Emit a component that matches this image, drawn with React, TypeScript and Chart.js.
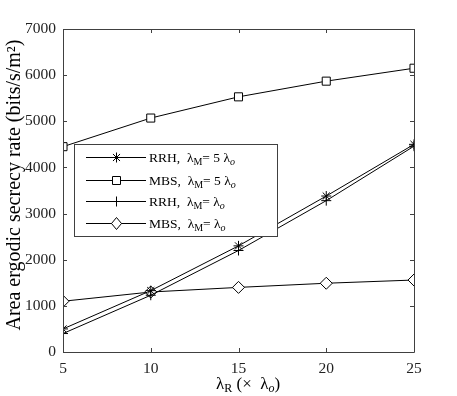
import React, { useEffect, useRef } from "react";
import { Chart, registerables } from "chart.js";

Chart.register(...registerables);

const xValues = [5, 10, 15, 20, 25];
const rrh5 = [500, 1330, 2300, 3380, 4500];
const mbs5 = [4450, 5070, 5530, 5870, 6150];
const rrh1 = [400, 1230, 2200, 3280, 4460];
const mbs1 = [1100, 1300, 1400, 1490, 1560];
const xTicks = [5, 10, 15, 20, 25];
const yTicks = [0, 1000, 2000, 3000, 4000, 5000, 6000, 7000];

const FONT = "'Liberation Serif', 'Times New Roman', serif";
const AXIS_COLOR = "#404040";

type Seg = { t: string; size: number; dy?: number; italic?: boolean };

function drawSegs(ctx: CanvasRenderingContext2D, segs: Seg[], x: number, y: number) {
  let cx = x;
  for (const s of segs) {
    ctx.font = `${s.italic ? "italic " : ""}${s.size}px ${FONT}`;
    ctx.fillText(s.t, cx, y + (s.dy || 0));
    cx += ctx.measureText(s.t).width;
  }
  return cx - x;
}

function drawMarker(ctx: CanvasRenderingContext2D, style: string, x: number, y: number) {
  ctx.save();
  ctx.strokeStyle = "#000";
  ctx.fillStyle = "#fff";
  ctx.lineWidth = 1;
  ctx.beginPath();
  if (style === "star") {
    const r = 5;
    for (let i = 0; i < 4; i++) {
      const a = (i * Math.PI) / 4;
      ctx.moveTo(x - r * Math.cos(a), y - r * Math.sin(a));
      ctx.lineTo(x + r * Math.cos(a), y + r * Math.sin(a));
    }
    ctx.stroke();
  } else if (style === "rect") {
    const s = 4;
    ctx.rect(x - s, y - s, 2 * s, 2 * s);
    ctx.fill();
    ctx.stroke();
  } else if (style === "cross") {
    const r = 5;
    ctx.moveTo(x - r, y);
    ctx.lineTo(x + r, y);
    ctx.moveTo(x, y - r);
    ctx.lineTo(x, y + r);
    ctx.stroke();
  } else if (style === "rectRot") {
    const r = 6;
    ctx.moveTo(x, y - r);
    ctx.lineTo(x + r - 1, y);
    ctx.lineTo(x, y + r);
    ctx.lineTo(x - r + 1, y);
    ctx.closePath();
    ctx.fill();
    ctx.stroke();
  }
  ctx.restore();
}

const legendItems = [
  { style: "star", name: "RRH,  ", five: true },
  { style: "rect", name: "MBS,  ", five: true },
  { style: "cross", name: "RRH,  ", five: false },
  { style: "rectRot", name: "MBS,  ", five: false },
];

const framePlugin = {
  id: "frame",
  afterDraw(chart: any) {
    const ctx: CanvasRenderingContext2D = chart.ctx;
    const { left, right, top, bottom } = chart.chartArea;
    const xs = chart.scales.x;
    const ys = chart.scales.y;
    ctx.save();
    ctx.strokeStyle = AXIS_COLOR;
    ctx.lineWidth = 1;
    ctx.beginPath();
    ctx.rect(Math.round(left) + 0.5, Math.round(top) + 0.5, Math.round(right - left), Math.round(bottom - top));
    ctx.stroke();
    const tl = 4;
    ctx.beginPath();
    for (const v of xTicks) {
      const px = Math.round(xs.getPixelForValue(v)) + 0.5;
      ctx.moveTo(px, bottom);
      ctx.lineTo(px, bottom - tl);
      ctx.moveTo(px, top);
      ctx.lineTo(px, top + tl);
    }
    for (const v of yTicks) {
      const py = Math.round(ys.getPixelForValue(v)) + 0.5;
      ctx.moveTo(left, py);
      ctx.lineTo(left + tl, py);
      ctx.moveTo(right, py);
      ctx.lineTo(right - tl, py);
    }
    ctx.stroke();

    // legend
    const bx = 74.5, by = 144.5, bw = 203, bh = 92;
    ctx.fillStyle = "#fff";
    ctx.fillRect(bx, by, bw, bh);
    ctx.strokeStyle = AXIS_COLOR;
    ctx.strokeRect(bx, by, bw, bh);
    const rows = [157, 179.5, 201, 223];
    ctx.textBaseline = "alphabetic";
    legendItems.forEach((it, i) => {
      const y = Math.round(rows[i]) + 0.5;
      ctx.strokeStyle = "#000";
      ctx.beginPath();
      ctx.moveTo(86, y);
      ctx.lineTo(146, y);
      ctx.stroke();
      drawMarker(ctx, it.style, 116.5, y);
      ctx.fillStyle = "#000";
      const segs: Seg[] = [
        { t: it.name + "λ", size: 13.5 },
        { t: "M", size: 10, dy: 3 },
        { t: it.five ? "= 5 λ" : "= λ", size: 13.5 },
        { t: "o", size: 10, dy: 3, italic: true },
      ];
      drawSegs(ctx, segs, 149, y + 4.5);
    });

    // x title
    ctx.fillStyle = "#000";
    drawSegs(
      ctx,
      [
        { t: "λ", size: 17 },
        { t: "R", size: 12, dy: 3 },
        { t: " (×  λ", size: 17 },
        { t: "o", size: 12, dy: 3, italic: true },
        { t: ")", size: 17 },
      ],
      216,
      389
    );

    // y title
    ctx.save();
    ctx.translate(20, 185);
    ctx.rotate(-Math.PI / 2);
    ctx.font = `20px ${FONT}`;
    ctx.textAlign = "center";
    ctx.textBaseline = "alphabetic";
    ctx.fillText("Area ergodic secrecy rate (bits/s/m²)", 0, 0);
    ctx.restore();
    ctx.restore();
  },
};

export default function App() {
  const ref = useRef<HTMLCanvasElement | null>(null);
  useEffect(() => {
    document.body.style.margin = "0";
    const canvas = ref.current!;
    const mk = (label: string, data: number[], style: string, radius: number) => ({
      label,
      data: data.map((v, i) => ({ x: xValues[i], y: v })),
      borderColor: "#000",
      backgroundColor: "#fff",
      borderWidth: 1,
      pointStyle: style,
      pointRadius: radius,
      pointBorderColor: "#000",
      pointBackgroundColor: "#fff",
      pointBorderWidth: 1,
      tension: 0,
    });
    const chart = new Chart(canvas, {
      type: "line",
      data: {
        datasets: [
          mk("RRH 5", rrh5, "star", 5),
          mk("MBS 5", mbs5, "rect", 5.7),
          mk("RRH 1", rrh1, "cross", 5),
          mk("MBS 1", mbs1, "rectRot", 6),
        ],
      },
      options: {
        responsive: false,
        animation: false,
        devicePixelRatio: 1,
        layout: { padding: { top: 29, right: 43, left: 0, bottom: 0 } },
        plugins: { legend: { display: false }, tooltip: { enabled: false } },
        scales: {
          x: {
            type: "linear",
            min: 5,
            max: 25,
            afterBuildTicks: (s: any) => {
              s.ticks = xTicks.map((v) => ({ value: v }));
            },
            afterFit: (s: any) => {
              s.height = 44;
            },
            grid: { display: false, drawTicks: false },
            border: { display: false },
            ticks: {
              font: { family: FONT, size: 15.5 },
              color: "#222",
              padding: 8,
              maxRotation: 0,
              callback: (v: any) => String(v),
            },
          },
          y: {
            type: "linear",
            min: 0,
            max: 7000,
            afterBuildTicks: (s: any) => {
              s.ticks = yTicks.map((v) => ({ value: v }));
            },
            afterFit: (s: any) => {
              s.width = 63;
            },
            grid: { display: false, drawTicks: false },
            border: { display: false },
            ticks: {
              font: { family: FONT, size: 15.5 },
              color: "#222",
              padding: 7,
              callback: (v: any) => String(v),
            },
          },
        },
      },
      plugins: [framePlugin],
    } as any);
    return () => chart.destroy();
  }, []);
  return (
    <div style={{ width: 457, height: 396 }}>
      <canvas ref={ref} width={457} height={396} style={{ display: "block", width: 457, height: 396 }} />
    </div>
  );
}
